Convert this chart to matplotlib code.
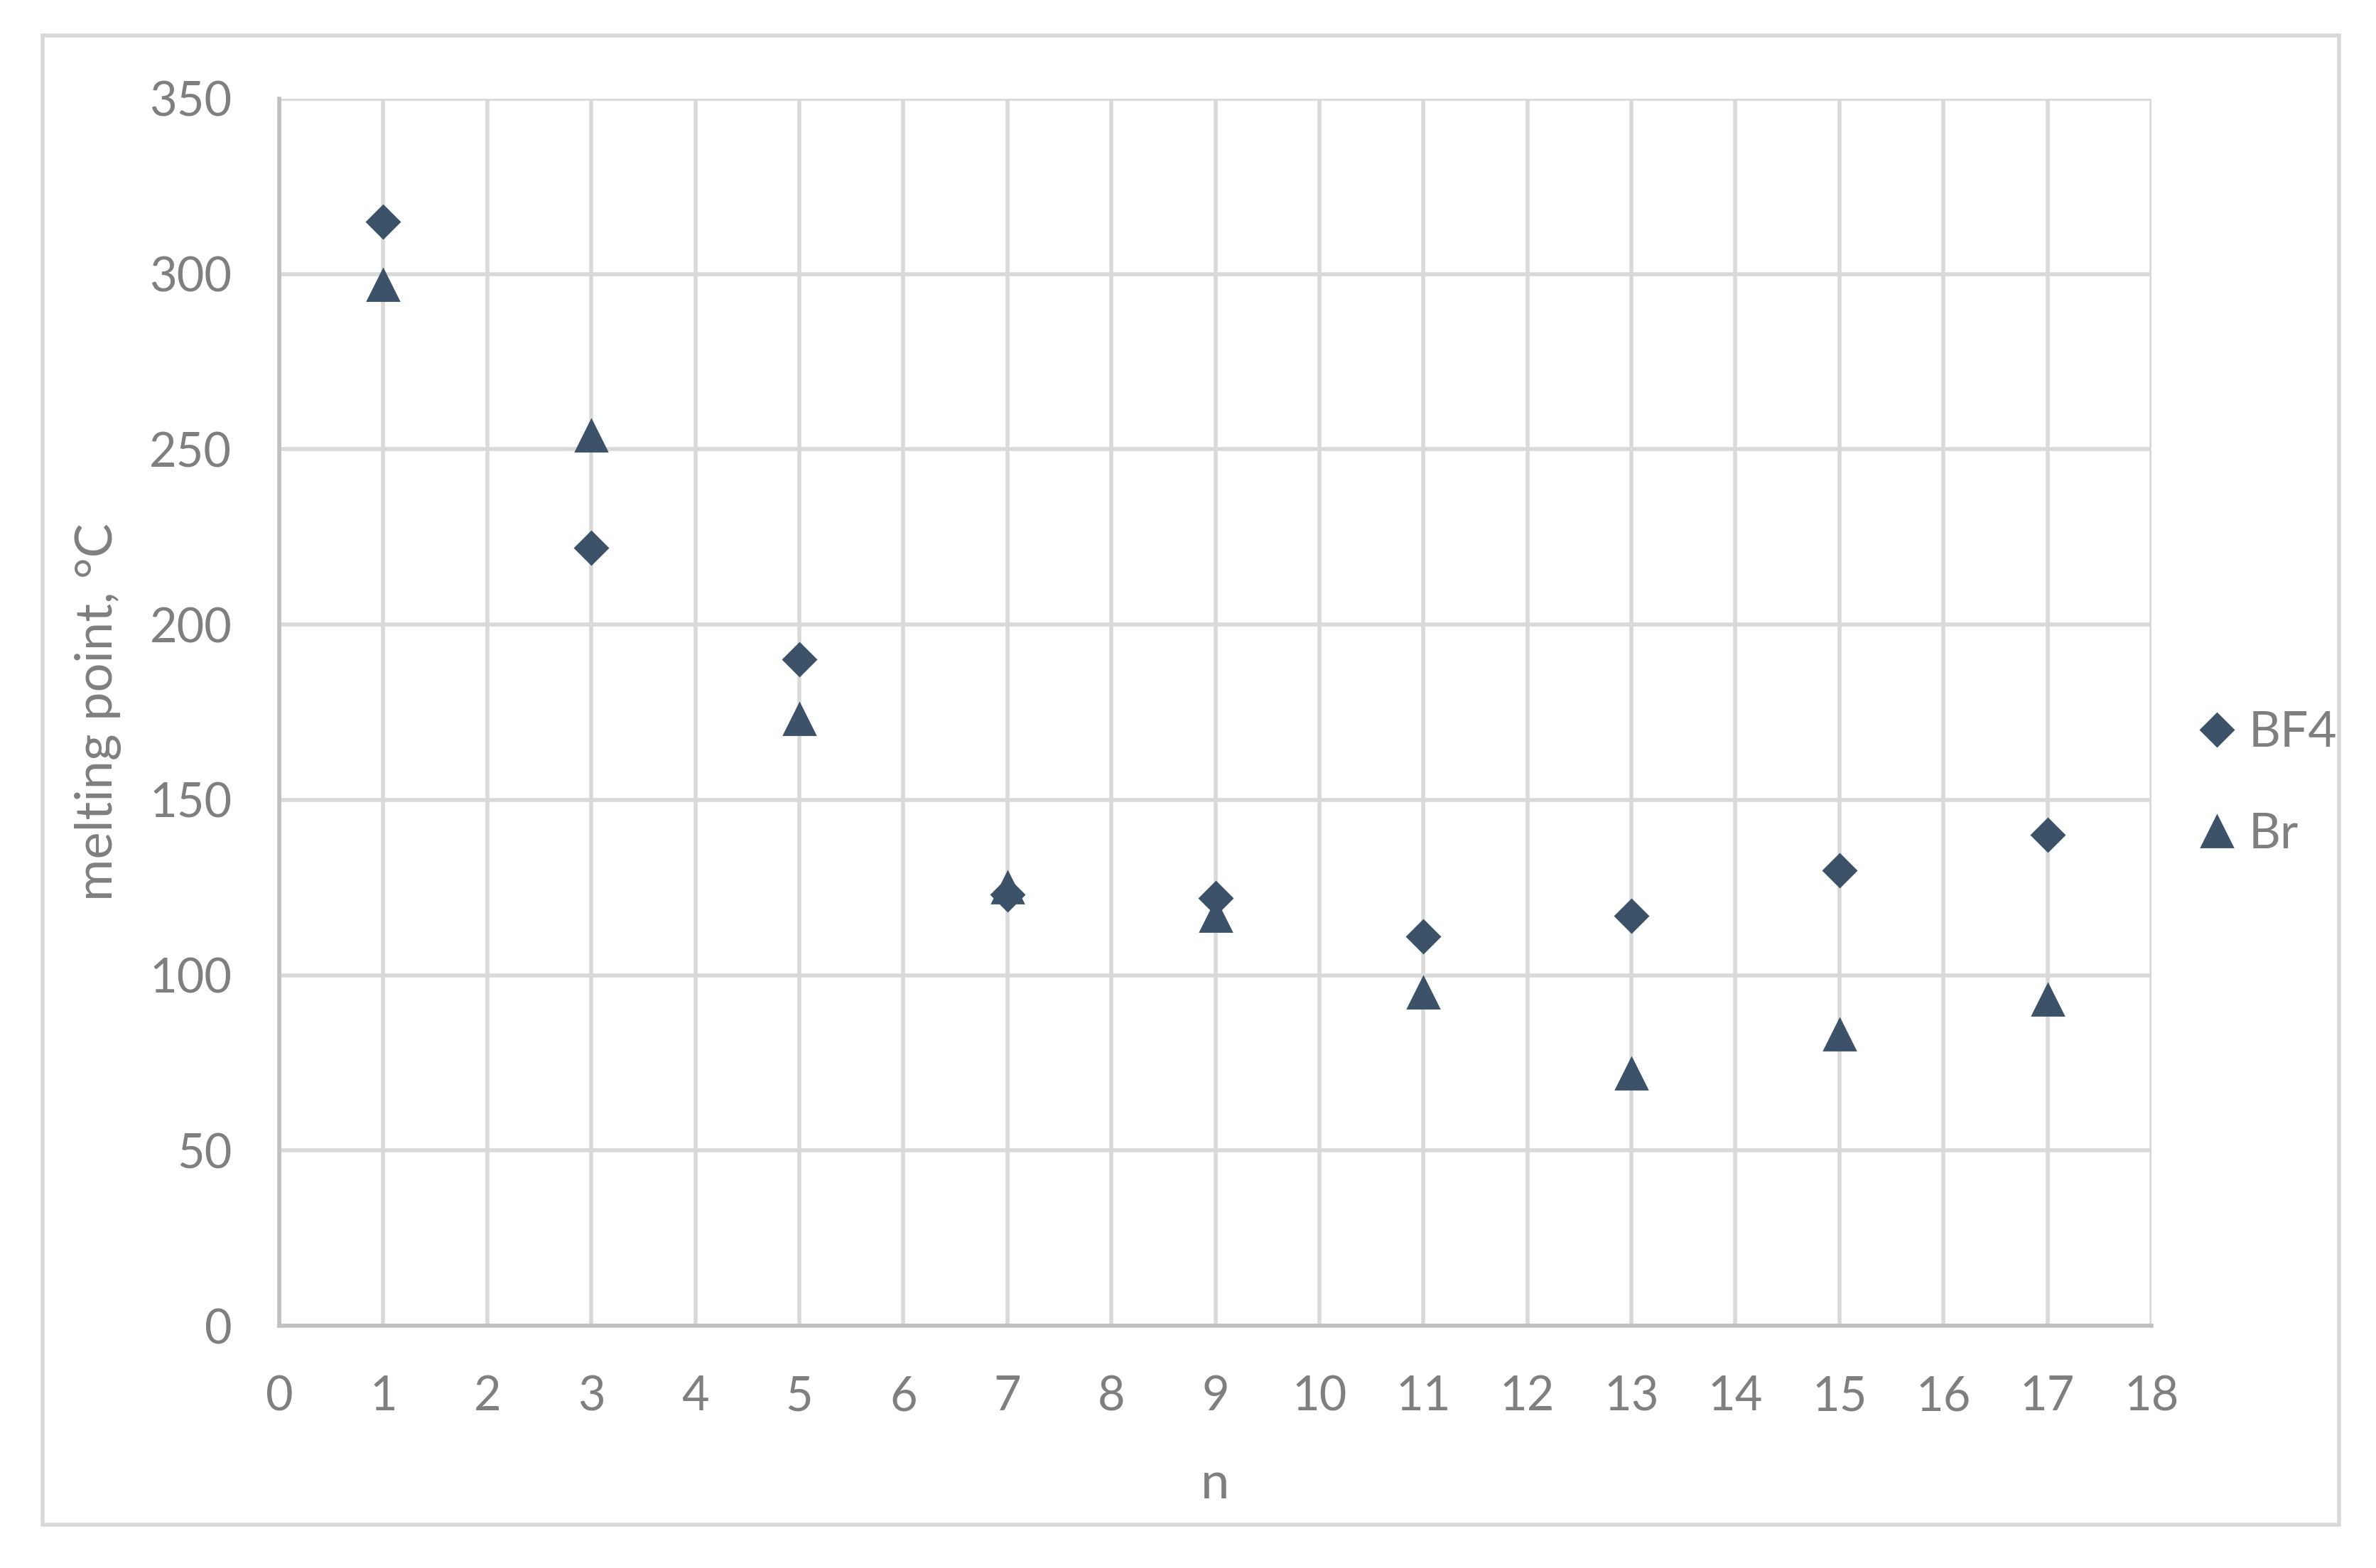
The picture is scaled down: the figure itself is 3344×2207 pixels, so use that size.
import matplotlib
matplotlib.use("Agg")
import matplotlib.pyplot as plt
from matplotlib.patches import Rectangle

# dados
n_values = [1, 3, 5, 7, 9, 11, 13, 15, 17]
mp_bf4 = [315, 222, 190, 123, 122, 111, 117, 130, 140]
mp_br = [297, 254, 173, 125, 117, 95, 72, 83, 93]

x_ticks = list(range(0, 19, 1))
y_ticks = list(range(0, 351, 50))

plt.rcParams['font.family'] = ['Lato', 'DejaVu Sans']

mark_color = '#3b5269'
text_color = '#7f7f7f'
grid_color = '#d9d9d9'
axis_color = '#bfbfbf'

fig = plt.figure(figsize=(16.72, 11.035), dpi=200)
ax = fig.add_axes([393 / 3344, 1 - 1866 / 2207, (3028 - 393) / 3344, (1866 - 139) / 2207])

ax.plot(n_values, mp_bf4, linestyle='none', marker='D', markersize=11.5,
        color=mark_color, markeredgecolor=mark_color, markeredgewidth=1,
        label='BF4', zorder=3)
ax.plot(n_values, mp_br, linestyle='none', marker='^', markersize=15.5,
        color=mark_color, markeredgecolor=mark_color, markeredgewidth=1,
        label='Br', zorder=3)

ax.set_xlim(0, 18)
ax.set_ylim(0, 350)
ax.set_xticks(x_ticks)
ax.set_yticks(y_ticks)
ax.grid(True, color=grid_color, linewidth=2.0)
ax.set_axisbelow(True)

for side in ['top', 'right']:
    ax.spines[side].set_visible(False)
for side in ['left', 'bottom']:
    ax.spines[side].set_color(axis_color)
    ax.spines[side].set_linewidth(2.0)

ax.tick_params(axis='both', length=0, labelsize=24, labelcolor=text_color)
ax.tick_params(axis='y', pad=24)
ax.tick_params(axis='x', pad=25)

ax.set_xlabel('n', fontsize=26, color=text_color, labelpad=21)
ax.set_ylabel('melting point, °C', fontsize=26, color=text_color, labelpad=14)

leg = ax.legend(loc='center left', bbox_to_anchor=(3085 / 3344, 1 - 1103 / 2207),
                bbox_transform=fig.transFigure, frameon=False, fontsize=25,
                handlelength=1.0, handletextpad=0.15, labelspacing=1.15,
                borderaxespad=0, borderpad=0)
for t in leg.get_texts():
    t.set_color(text_color)

# moldura externa
fig.patches.append(Rectangle((60 / 3344, 1 - 2146 / 2207), (3292 - 60) / 3344, (2146 - 50) / 2207,
                             transform=fig.transFigure, fill=False,
                             edgecolor=grid_color, linewidth=2.0))

fig.savefig('out.png', dpi=200, facecolor='white')
